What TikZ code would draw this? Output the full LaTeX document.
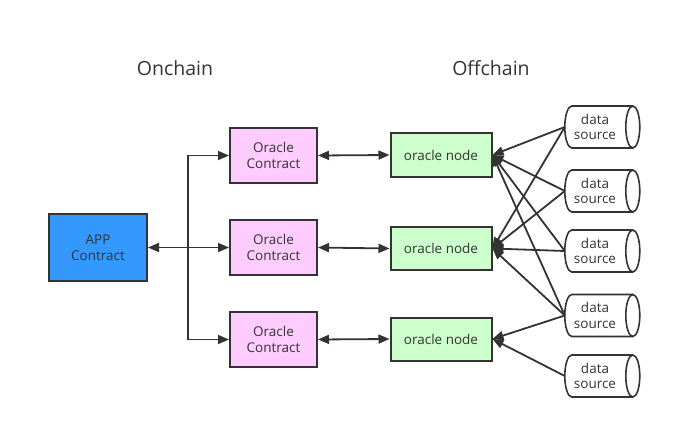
\documentclass[tikz,border=0pt]{standalone}
\usepackage{fontspec}
\setmainfont{Open Sans}
\usetikzlibrary{arrows.meta}
\definecolor{ln}{HTML}{333333}
\definecolor{appblue}{HTML}{3399FF}
\definecolor{pink}{HTML}{FFCCFF}
\definecolor{mint}{HTML}{CCFFCC}
\begin{document}
\begin{tikzpicture}[x=1pt,y=-1pt,
  box/.style={draw=ln, line width=2pt, align=center, inner sep=0pt,
    text=ln, font=\fontsize{13.5}{15.5}\selectfont},
  appbox/.style={box, fill=appblue, minimum width=98pt, minimum height=67pt},
  ocbox/.style={box, fill=pink, minimum width=87pt, minimum height=55pt},
  onbox/.style={box, fill=mint, minimum width=101pt, minimum height=43pt},
  dsbox/.style={align=center, inner sep=0pt, text=ln,
    font=\fontsize{13.5}{15.5}\selectfont, minimum width=60pt, minimum height=42pt},
  cyl/.style={draw=ln, line width=1.6pt},
  title/.style={text=ln, font=\fontsize{19.5}{22}\selectfont},
  tip/.tip={Triangle[length=11pt,width=9pt]},
  arr/.style={draw=ln, line width=1.8pt, -tip},
  darr/.style={draw=ln, line width=1.8pt, tip-tip}
]
\useasboundingbox (0,0) rectangle (673,428);

\node[title] (ton) at (175,68) {Onchain};
\node[title] (toff) at (491,68) {Offchain};

\node[appbox] (app) at (98,247.5) {APP\\Contract};

\node[ocbox] (oc1) at (273.5,155.5) {Oracle\\Contract};
\node[ocbox] (oc2) at (273.5,247.5) {Oracle\\Contract};
\node[ocbox] (oc3) at (273.5,339.5) {Oracle\\Contract};

\node[onbox] (on1) at (441,155) {oracle node};
\node[onbox] (on2) at (441,248.5) {oracle node};
\node[onbox] (on3) at (441,339) {oracle node};

\node[dsbox] (ds1) at (595,127) {data\\source};
\node[dsbox] (ds2) at (595,191) {data\\source};
\node[dsbox] (ds3) at (595,251) {data\\source};
\node[dsbox] (ds4) at (595,315.5) {data\\source};
\node[dsbox] (ds5) at (595,376) {data\\source};

\foreach \n in {ds1,ds2,ds3,ds4,ds5}{
  \draw[cyl] ([xshift=68pt,yshift=21pt]\n.west) -- ([xshift=7pt,yshift=21pt]\n.west)
    arc[start angle=90,end angle=270,x radius=7pt,y radius=21pt]
    -- ([xshift=68pt,yshift=-21pt]\n.west);
  \draw[cyl] ([xshift=68pt]\n.west) ellipse[x radius=7pt,y radius=21pt];
}

\coordinate (j) at (188,247.5);
\draw[arr] (j) -- (app.east);
\draw[arr] (j) -- (oc2.west);
\draw[arr] (j) |- (oc1.west);
\draw[arr] (j) |- (oc3.west);

\draw[darr] (oc1.east) -- (on1.west);
\draw[darr] (oc2.east) -- (on2.west);
\draw[darr] (oc3.east) -- (on3.west);

\draw[arr] (ds1.west) -- (on1.east);
\draw[arr] (ds1.west) -- (on2.east);
\draw[arr] (ds2.west) -- (on1.east);
\draw[arr] (ds2.west) -- (on2.east);
\draw[arr] (ds3.west) -- (on2.east);
\draw[arr] (ds3.west) -- (on1.east);
\draw[arr] (ds4.west) -- (on1.east);
\draw[arr] (ds4.west) -- (on2.east);
\draw[arr] (ds4.west) -- (on3.east);
\draw[arr] (ds5.west) -- (on3.east);
\end{tikzpicture}
\end{document}
